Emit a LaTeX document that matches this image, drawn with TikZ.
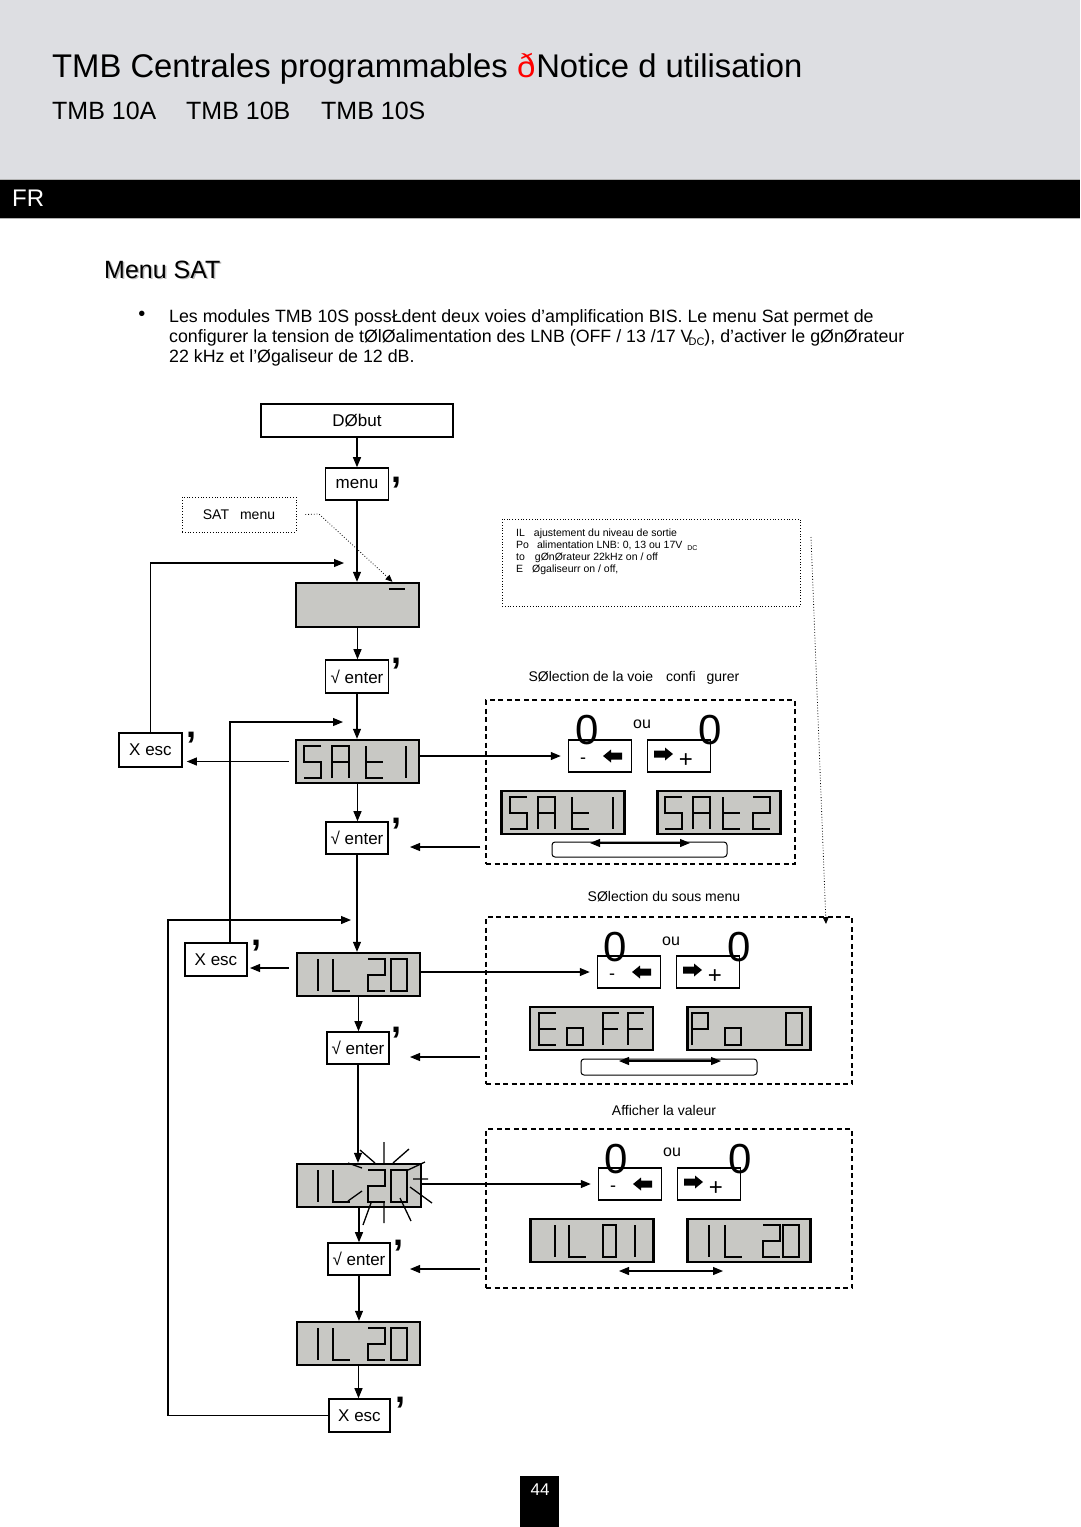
\documentclass[tikz,border=0pt]{standalone}
\usepackage{fontspec}
\setmainfont{Liberation Sans}
\usetikzlibrary{arrows.meta}
\definecolor{hdrgray}{HTML}{DDDEE2}
\definecolor{lcdgray}{HTML}{C8C8C4}
\newcommand\fsz[1]{\fontsize{#1}{#1}\selectfont}
\newcommand\lcdat[3]{\begin{scope}[shift={(#1,#2)}]#3\end{scope}}
\newcommand\btnpair[4]{%
  \node[btn] (#1m) at (#2+32,#4+16) {};
  \node[btn] (#1p) at (#3+32,#4+16) {};
  \node[txt, font=\fsz{18}] (#1mt) at (#2+15,#4+21) {-};
  \fill (#2+35,#4+16) -- ++(8,-6.5) -- ++(0,3) -- ++(11,0) -- ++(0,7) -- ++(-11,0) -- ++(0,3) -- cycle;
  \fill (#3+26,#4+14) -- ++(-8,-6.5) -- ++(0,3) -- ++(-11,0) -- ++(0,7) -- ++(11,0) -- ++(0,3) -- cycle;
  \node[txt, font=\fsz{24}] (#1pt) at (#3+39,#4+21) {+};
}
\newcommand\cmk[3]{\node[cmstyle] (#1) at (#2-2,#3+5) {,};}
\begin{document}
\begin{tikzpicture}[x=1pt,y=-1pt,
  key/.style={draw, line width=1.6pt, fill=white, inner sep=0pt, font=\fsz{17}},
  lcd/.style={draw, line width=2.4pt, fill=lcdgray, minimum width=123pt, minimum height=43pt, inner sep=0pt},
  btn/.style={draw, line width=1.5pt, fill=white, minimum width=63pt, minimum height=32pt, inner sep=0pt},
  conn/.style={line width=1.1pt, -{Triangle[length=10pt,width=8pt]}},
  seg/.style={line width=1.6pt},
  dotbox/.style={draw, dotted, line width=0.8pt, inner sep=0pt},
  dashbox/.style={draw, line width=1.1pt, dash pattern=on 5pt off 3.5pt, inner sep=0pt},
  txt/.style={inner sep=0pt},
  cmstyle/.style={inner sep=0pt, anchor=base west, font=\fsz{36}\bfseries},
  zero/.style={inner sep=0pt, font=\fsz{42}},
  sfive/.pic={\draw[seg] (17,0)--(0,0)--(0,16)--(17,16)--(17,32)--(0,32);},
  sA/.pic={\draw[seg] (0,32)--(0,0)--(17,0)--(17,32) (0,16)--(17,16);},
  st/.pic={\draw[seg] (0,0)--(0,32)--(17,32) (0,16)--(17,16);},
  sbar/.pic={\draw[seg] (0,0)--(0,32);},
  stwo/.pic={\draw[seg] (0,0)--(17,0)--(17,16)--(0,16)--(0,32)--(17,32);},
  sL/.pic={\draw[seg] (0,0)--(0,32)--(17,32);},
  szero/.pic={\draw[seg] (0,0) rectangle (16,32);},
  szeron/.pic={\draw[seg] (0,0) rectangle (13,32);},
  sE/.pic={\draw[seg] (17,0)--(0,0)--(0,32)--(17,32) (0,16)--(17,16);},
  ssq/.pic={\draw[seg] (0,15) rectangle (16,32);},
  sF/.pic={\draw[seg] (16,0)--(0,0)--(0,32) (0,16)--(15,16);},
  sP/.pic={\draw[seg] (0,32)--(0,0)--(16,0)--(16,16)--(0,16);}
]
\useasboundingbox (0,0) rectangle (1080,1527);
\fill[white] (0,0) rectangle (1080,1527);
% header
\fill[hdrgray] (0,0) rectangle (1080,180);
\fill[black] (0,180) rectangle (1080,218);
\draw[gray!60, line width=1pt] (0,179.5) -- (1080,179.5) (0,218.5) -- (1080,218.5);
\node[txt, anchor=base west, font=\fsz{32.8}] (title) at (52,77) {TMB Centrales programmables {\color{red}ð}\hspace{1pt}Notice d utilisation};
\node[txt, anchor=base west, font=\fsz{25}] (m1) at (52,119) {TMB 10A};
\node[txt, anchor=base west, font=\fsz{25}] (m2) at (186,119) {TMB 10B};
\node[txt, anchor=base west, font=\fsz{25}] (m3) at (321,119) {TMB 10S};
\node[txt, anchor=base west, font=\fsz{24}, text=white] (fr) at (12,206) {FR};
% intro
\node[txt, anchor=base west, font=\fsz{25}, text=gray!55] (hshadow) at (105.5,279.5) {Menu SAT};
\node[txt, anchor=base west, font=\fsz{25}] (head) at (104,278) {Menu SAT};
\node[txt, font=\fsz{20}] (bul) at (142,316) {•};
\node[txt, anchor=base west, font=\fsz{17.8}] (p1) at (169,322) {Les modules TMB 10S possŁdent deux voies d’amplification BIS. Le menu Sat permet de};
\node[txt, anchor=base west, font=\fsz{17.8}] (p2) at (169,342) {configurer la tension de tØlØalimentation des LNB (OFF / 13 /17 V\kern-4pt\raisebox{-3pt}{\fsz{11}DC}), d’activer le gØnØrateur};
\node[txt, anchor=base west, font=\fsz{17.8}] (p3) at (169,362) {22 kHz et l’Øgaliseur de 12 dB.};
% main column
\node[key, line width=2.2pt, minimum width=192pt, minimum height=33pt] (debut) at (357,420.5) {DØbut};
\node[key, minimum width=63pt, minimum height=32pt] (menu) at (357,484) {menu};
\node[dotbox, minimum width=114pt, minimum height=35pt, font=\fsz{14}] (satm) at (239,514.5) {SAT\hspace{11pt}menu};
\node[lcd, minimum height=44pt] (lcd0) at (357.5,605) {};
\draw[line width=2.4pt] (389,589) -- (405,589);
\node[key, minimum width=63pt, minimum height=33pt] (ent1) at (357,676.5) {√ enter};
\node[lcd] (lsat) at (357.5,761.5) {};
\lcdat{296}{740}{\pic at (8,6) {sfive}; \pic at (36,6) {sA}; \pic at (70,6) {st}; \pic at (110,6) {sbar};}
\node[key, minimum width=63pt, minimum height=34pt] (xesc1) at (150.5,750) {X esc};
\node[key, minimum width=62pt, minimum height=32pt] (ent2) at (357,838) {√ enter};
\node[lcd] (lil) at (358.5,974.5) {};
\lcdat{297}{953}{\pic at (21,6) {sbar}; \pic at (36,6) {sL}; \pic at (71,6) {stwo}; \pic at (94,6) {szero};}
\node[key, minimum width=62pt, minimum height=33pt] (xesc2) at (216,959.5) {X esc};
\node[key, minimum width=62pt, minimum height=32pt] (ent3) at (358,1048) {√ enter};
\node[lcd, minimum width=124pt] (lfl) at (359,1185.5) {};
\lcdat{297}{1164}{\pic at (21,6) {sbar}; \pic at (36,6) {sL}; \pic at (71,6) {stwo}; \pic at (94,6) {szero};}
\draw[line width=1.3pt] (360,1150)--(375,1163) (384,1142)--(384,1163) (409,1149)--(393,1163)
  (425,1162)--(408,1170) (413,1179)--(428,1179) (410,1187)--(432,1203) (400,1198)--(411,1221)
  (384,1202)--(384,1223) (371,1203)--(363,1225) (362,1191)--(348,1201) (348,1163)--(362,1168);
\node[key, minimum width=62pt, minimum height=32pt] (ent4) at (359,1259) {√ enter};
\node[lcd] (lfin) at (358.5,1343.5) {};
\lcdat{297}{1322}{\pic at (21,6) {sbar}; \pic at (36,6) {sL}; \pic at (71,6) {stwo}; \pic at (94,6) {szero};}
\node[key, minimum width=61pt, minimum height=33pt] (xesc3) at (359.5,1415.5) {X esc};
% comma marks
\cmk{c1}{393}{477}
\cmk{c2}{393}{658}
\cmk{c3}{188}{732}
\cmk{c4}{393}{818}
\cmk{c5}{253}{940}
\cmk{c6}{393}{1027}
\cmk{c7}{395}{1240}
\cmk{c8}{397}{1397}
% right side
\node[dotbox, minimum width=298pt, minimum height=87pt] (info) at (651,562.5) {};
\node[txt, anchor=base west, font=\fsz{10.5}] (i1) at (516,536) {IL\hspace{9pt}ajustement du niveau de sortie};
\node[txt, anchor=base west, font=\fsz{10.5}] (i2) at (516,548) {Po\hspace{8pt}alimentation LNB: 0, 13 ou 17V\hspace{5pt}\raisebox{-2pt}{\fsz{7}DC}};
\node[txt, anchor=base west, font=\fsz{10.5}] (i3) at (516,560) {to\hspace{10pt}gØnØrateur 22kHz on / off};
\node[txt, anchor=base west, font=\fsz{10.5}] (i4) at (516,572) {E\hspace{9pt}Øgaliseurr on / off,};
\node[txt, font=\fsz{14}] (s1) at (634,678) {SØlection de la voie\hspace{13pt}confi\hspace{11pt}gurer};
\node[dashbox, minimum width=309pt, minimum height=164pt] (box1) at (640.5,782) {};
\node[txt, font=\fsz{14}] (s2) at (664,897) {SØlection du sous menu};
\node[dashbox, minimum width=366pt, minimum height=167pt] (box2) at (669,1000.5) {};
\node[txt, font=\fsz{14}] (s3) at (664,1110) {Afficher la valeur};
\node[dashbox, minimum width=366pt, minimum height=159pt] (box3) at (669,1208.5) {};
% box 1 content
\btnpair{b1}{568}{647}{740}
\node[zero] (z1a) at (587,730) {0};
\node[zero] (z1b) at (710,730) {0};
\node[txt, font=\fsz{16}] (o1) at (642,724) {ou};
\node[lcd] (r1a) at (563,812.5) {};
\lcdat{501}{791}{\pic at (9,6) {sfive}; \pic at (37,6) {sA}; \pic at (71,6) {st}; \pic at (112,6) {sbar};}
\node[lcd] (r1b) at (719,812.5) {};
\lcdat{657}{791}{\pic at (8,6) {sfive}; \pic at (36,6) {sA}; \pic at (66,6) {st}; \pic at (96,6) {stwo};}
\draw[line width=1pt, rounded corners=3pt] (552,842) rectangle (727,857);
\draw[line width=1.1pt, {Triangle[length=10pt,width=8pt]}-{Triangle[length=10pt,width=8pt]}] (590,843) -- (690,843);
% box 2 content
\btnpair{b2}{597}{676}{956}
\node[zero] (z2a) at (615,947) {0};
\node[zero] (z2b) at (739,947) {0};
\node[txt, font=\fsz{16}] (o2) at (671,941) {ou};
\node[lcd] (r2a) at (591.5,1028.5) {};
\lcdat{530}{1007}{\pic at (9,6) {sE}; \pic at (37,6) {ssq}; \pic at (73,6) {sF}; \pic at (98,6) {sF};}
\node[lcd] (r2b) at (749,1028.5) {};
\lcdat{687}{1007}{\pic at (5,6) {sP}; \pic at (38,6) {ssq}; \pic at (99,6) {szero};}
\draw[line width=1pt, rounded corners=3pt] (581,1059) rectangle (757,1075);
\draw[line width=1.1pt, {Triangle[length=10pt,width=8pt]}-{Triangle[length=10pt,width=8pt]}] (619,1061) -- (721,1061);
% box 3 content
\btnpair{b3}{598}{677}{1168}
\node[zero] (z3a) at (616,1159) {0};
\node[zero] (z3b) at (740,1159) {0};
\node[txt, font=\fsz{16}] (o3) at (672,1152) {ou};
\node[lcd] (r3a) at (592,1240.5) {};
\lcdat{530}{1219}{\pic at (25,6) {sbar}; \pic at (39,6) {sL}; \pic at (73,6) {szeron}; \pic at (105,6) {sbar};}
\node[lcd] (r3b) at (749,1240.5) {};
\lcdat{687}{1219}{\pic at (22,6) {sbar}; \pic at (38,6) {sL}; \pic at (76,6) {stwo}; \pic at (96,6) {szero};}
\draw[line width=1.1pt, {Triangle[length=10pt,width=8pt]}-{Triangle[length=10pt,width=8pt]}] (619,1271) -- (723,1271);
% page number
\fill[black] (520,1476) rectangle (559,1527);
\node[txt, font=\fsz{17}, text=white] (pg) at (540,1490) {44};
% coordinates
\coordinate (dm1) at (319,514);
\coordinate (l1e) at (344,563);
\coordinate (l2e) at (343,722);
\coordinate (l3c) at (168,920);
\coordinate (l3e) at (351,920);
\coordinate (a2) at (410,847);
\coordinate (a3) at (410,1057);
\coordinate (a4) at (410,1269);
\coordinate (a5) at (250,968);
\coordinate (q1) at (811,537);
\coordinate (q2) at (826,924);
% connectors
\draw[conn] (debut.south) -- (debut.south |- menu.north);
\draw[conn] (menu.south) -- (menu.south |- lcd0.north);
\draw[dotted, line width=0.8pt, -{Triangle[length=7pt,width=6pt]}] ([xshift=9pt]satm.east) -- (dm1) -- ([xshift=35pt]lcd0.north);
\draw[conn] (xesc1.north) |- (l1e);
\draw[conn] (lcd0.south) -- (lcd0.south |- ent1.north);
\draw[conn] (ent1.south) -- (ent1.south |- lsat.north);
\draw[conn] ([xshift=-6pt]lsat.west) -- ([xshift=4pt]xesc1.east |- lsat.west);
\draw[conn] (lsat.east |- b1m.west) -- ([xshift=-7pt]b1m.west);
\draw[conn] (lsat.south) -- (lsat.south |- ent2.north);
\draw[conn] ([xshift=-5pt]box1.west |- a2) -- (a2);
\draw[conn] ([xshift=14pt]xesc2.north) |- (l2e);
\draw[conn] (ent2.south) -- (ent2.south |- lil.north);
\draw[conn] ([xshift=-7pt]lil.west |- a5) -- (a5);
\draw[conn] (lil.east |- b2m.west) -- ([xshift=-7pt]b2m.west);
\draw[conn] (lil.south) -- (lil.south |- ent3.north);
\draw[conn] ([xshift=-5pt]box2.west |- a3) -- (a3);
\draw[conn] (ent3.south) -- (ent3.south |- lfl.north);
\draw[conn] (lfl.east |- b3m.west) -- ([xshift=-7pt]b3m.west);
\draw[conn] (lfl.south) -- (lfl.south |- ent4.north);
\draw[conn] ([xshift=-5pt]box3.west |- a4) -- (a4);
\draw[conn] (ent4.south) -- (ent4.south |- lfin.north);
\draw[conn] (lfin.south) -- (lfin.south |- xesc3.north);
\draw[conn] (xesc3.west) -| (l3c) -- (l3e);
\draw[dotted, line width=0.8pt, -{Triangle[length=7pt,width=6pt]}] (q1) -- (q2);
\end{tikzpicture}
\end{document}
